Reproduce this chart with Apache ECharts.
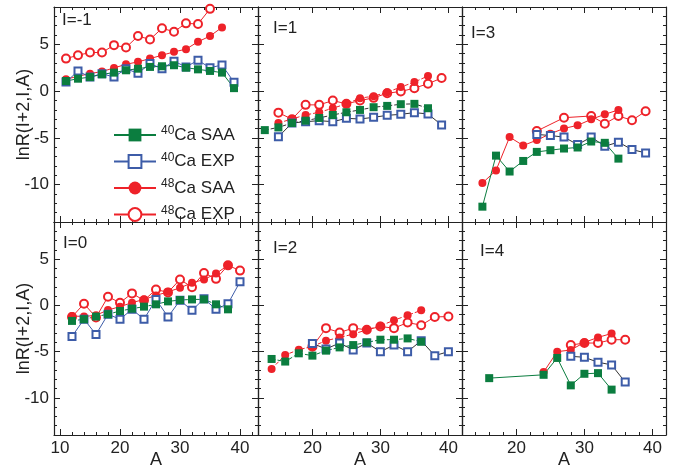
<!DOCTYPE html>
<html>
<head>
<meta charset="utf-8">
<script src="https://cdn.jsdelivr.net/npm/echarts@6/dist/echarts.min.js"></script>
<style>
  html, body { margin: 0; background: #fff; }
  #chart { width: 685px; height: 470px; }
</style>
</head>
<body>
<div id="chart"></div>
<script>
// ---- data: [A, lnR] ----
// I = -1
var saa40_m1 = [[11,1.08],[13,1.33],[15,1.5],[17,1.8],[19,1.98],[21,2.23],[23,2.4],[25,2.59],[27,2.66],[29,2.77],[31,2.51],[33,2.33],[35,2.16],[37,1.98],[39,0.32]];
var exp40_m1 = [[11,0.97],[13,2.15],[15,1.5],[17,1.87],[19,1.5],[21,2.4],[23,1.9],[25,2.95],[27,2.4],[29,3.2],[31,2.59],[33,3.3],[35,2.5],[37,2.8],[39,0.95]];
var saa48_m1 = [[11,1.26],[13,1.6],[15,1.87],[17,2.1],[19,2.48],[21,2.87],[23,3.13],[25,3.48],[27,3.84],[29,4.2],[31,4.49],[33,5.28],[35,5.89],[37,6.82]];
var exp48_m1 = [[11,3.48],[13,3.84],[15,4.13],[17,4.13],[19,4.92],[21,4.67],[23,5.89],[25,5.53],[27,6.72],[29,6.36],[31,7.25],[33,7.18],[35,8.8],[37,10.2]];
// I = 1
var saa40_1 = [[13,-4.17],[15,-3.88],[17,-3.41],[19,-3.16],[21,-2.87],[23,-2.55],[25,-2.26],[27,-2.01],[29,-1.72],[31,-1.58],[33,-1.4],[35,-1.36],[37,-1.83]];
var exp40_1 = [[15,-4.89],[17,-3.41],[19,-3.27],[21,-3.16],[23,-3.27],[25,-2.91],[27,-2.98],[29,-2.8],[31,-2.59],[33,-2.48],[35,-2.3],[37,-2.44],[39,-3.63]];
var saa48_1 = [[15,-3.41],[17,-2.98],[19,-2.55],[21,-2.26],[23,-1.83],[25,-1.36],[27,-0.75],[29,-0.54],[31,-0.11],[33,0.43],[35,0.97],[37,1.62]];
var exp48_1 = [[15,-2.3],[17,-3.0],[19,-1.47],[21,-1.47],[23,-1.01],[25,-1.36],[27,-1.01],[29,-0.72],[31,-0.22],[33,-0.04],[35,0.32],[37,0.79],[39,1.4]];
// I = 3
var saa40_3 = [[15,-12.36],[17,-6.9],[19,-8.6],[21,-7.47],[23,-6.5],[25,-6.32],[27,-6.14],[29,-6.03],[31,-5.39],[33,-5.53],[35,-7.22]];
var exp40_3 = [[23,-4.63],[25,-4.75],[27,-4.92],[29,-5.72],[31,-4.92],[33,-5.89],[35,-5.46],[37,-6.25],[39,-6.61]];
var saa48_3 = [[15,-9.84],[17,-8.48],[19,-4.92],[21,-5.82],[23,-5.24],[25,-4.56],[27,-3.99],[29,-3.66],[31,-3.02],[33,-2.48],[35,-2.01]];
var exp48_3 = [[23,-4.27],[27,-2.84],[31,-2.66],[33,-3.48],[35,-2.66],[37,-3.12],[39,-2.16]];
// I = 0
var saa40_0 = [[12,-1.68],[14,-1.5],[16,-1.21],[18,-0.96],[20,-0.61],[22,-0.36],[24,-0.14],[26,0.11],[28,0.43],[30,0.57],[32,0.64],[34,0.64],[36,0.11],[38,-0.43]];
var exp40_0 = [[12,-3.36],[14,-1.5],[16,-3.14],[18,-0.96],[20,-1.5],[22,-0.43],[24,-1.5],[26,0.64],[28,-1.25],[30,0.54],[32,-0.54],[34,0.71],[36,-0.43],[38,0.18],[40,2.54]];
var saa48_0 = [[12,-1.14],[14,-1.21],[16,-1.07],[18,-0.5],[20,-0.14],[22,0.29],[24,0.64],[26,1.07],[28,1.46],[30,1.89],[32,2.43],[34,2.79],[36,3.43],[38,4.32]];
var exp48_0 = [[12,-1.25],[14,0.18],[16,-1.3],[18,0.93],[20,0.29],[22,1.29],[24,0.54],[26,1.71],[28,1.4],[30,2.79],[32,1.96],[34,3.5],[36,2.86],[38,4.32],[40,3.75]];
// I = 2
var saa40_2 = [[14,-5.79],[16,-6.07],[18,-5.18],[20,-5.43],[22,-4.89],[24,-4.54],[26,-4.29],[28,-4.0],[30,-3.71],[32,-3.71],[34,-3.57],[36,-3.93]];
var exp40_2 = [[20,-4.11],[22,-4.71],[24,-4.07],[26,-4.82],[28,-4.07],[30,-5.0],[32,-4.29],[34,-5.0],[36,-3.82],[38,-5.43],[40,-5.0]];
var saa48_2 = [[14,-6.86],[16,-5.36],[18,-4.79],[20,-4.43],[22,-3.82],[24,-3.46],[26,-3.11],[28,-2.64],[30,-2.21],[32,-1.61],[34,-1.07],[36,-0.54]];
var exp48_2 = [[20,-4.46],[22,-2.46],[24,-2.93],[26,-2.46],[28,-2.64],[30,-2.29],[32,-2.46],[34,-1.86],[36,-2.14],[38,-1.25],[40,-1.21]];
// I = 4
var saa40_4 = [[16,-7.86],[24,-7.5],[26,-5.68],[28,-8.64],[30,-7.39],[32,-7.32],[34,-9.1]];
var exp40_4 = [[28,-5.5],[30,-5.61],[32,-6.14],[34,-6.43],[36,-8.29]];
var saa48_4 = [[24,-7.21],[26,-5.0],[28,-4.82],[30,-4.0],[32,-3.46],[34,-3.04]];
var exp48_4 = [[28,-4.29],[30,-4.07],[32,-4.07],[34,-3.71],[36,-3.71]];

var seriesNames = ["40Ca SAA", "40Ca EXP", "48Ca SAA", "48Ca EXP"];
var panelLabels = ["I=-1", "I=1", "I=3", "I=0", "I=2", "I=4"];
var yMajor = [-10, -5, 0, 5];
var xMajor = [10, 20, 30, 40];

var panels = [
  [saa40_m1, exp40_m1, saa48_m1, exp48_m1],
  [saa40_1, exp40_1, saa48_1, exp48_1],
  [saa40_3, exp40_3, saa48_3, exp48_3],
  [saa40_0, exp40_0, saa48_0, exp48_0],
  [saa40_2, exp40_2, saa48_2, exp48_2],
  [saa40_4, exp40_4, saa48_4, exp48_4]
];

// ---- layout / style ----
var FONT = "Liberation Sans, Arial, sans-serif";
var GREEN = "#0b7d3f", BLUE = "#3d5ca8", RED = "#ee2229", DARK = "#333";
var colLeft = [54, 258, 462], colW = 204;
var rowTop = [7, 222], rowH = 215;
var xRange = [[9, 43], [12, 42], [12, 42]];
var yRange = [-14, 9];
// line look of each panel: [40 SAA colour, 40 SAA dash, 40 EXP colour, 48 SAA dash]
var panelLines = [
  [GREEN, "solid", BLUE, "solid"],
  [DARK, "dashed", DARK, "dashed"],
  [GREEN, "solid", DARK, "solid"],
  [GREEN, "dashed", BLUE, "solid"],
  [GREEN, "dashed", DARK, "dashed"],
  [GREEN, "solid", DARK, "solid"]
];
var labelPos = [[62, 20], [273, 28], [471, 33], [63, 243], [273, 248], [480, 251]];

function steps(a, b, s) {
  var out = [];
  for (var v = a; v <= b + 1e-9; v += s) out.push(v);
  return out;
}

var grids = [], xAxes = [], yAxes = [], series = [], graphics = [];

// an axis that only draws frame line + ticks (labels hidden, so customValues ticks work)
function tickAxis(g, pos, range, ticks, len, withLine) {
  return {
    type: "value", gridIndex: g, position: pos, min: range[0], max: range[1],
    axisLine: { show: withLine, onZero: false, lineStyle: { color: "#222", width: 1.2 } },
    splitLine: { show: false },
    axisTick: { show: true, inside: true, length: len, customValues: ticks, lineStyle: { color: "#222", width: 1 } },
    axisLabel: { show: false }
  };
}
// an axis that only draws labels and the axis name
function labelAxis(g, pos, range, ticks, name, gap) {
  return {
    type: "value", gridIndex: g, position: pos, min: range[0], max: range[1],
    axisLine: { show: false, onZero: false }, axisTick: { show: false }, splitLine: { show: false },
    axisLabel: { show: true, customValues: ticks, margin: 5, fontSize: 17, color: "#222", fontFamily: FONT },
    name: name, nameLocation: "middle", nameGap: gap, nameMoveOverlap: false,
    nameTextStyle: { fontSize: 18, color: "#222", fontFamily: FONT }
  };
}

for (var g = 0; g < 6; g++) {
  var row = Math.floor(g / 3), col = g % 3;
  grids.push({ left: colLeft[col], top: rowTop[row], width: colW, height: rowH });
  var xr = xRange[col];
  var xMaj = xMajor.filter(function (v) { return v >= xr[0] && v <= xr[1]; });
  var xMinor = steps(Math.ceil(xr[0] / 2) * 2, xr[1], 2);
  var yMinor = steps(yRange[0], yRange[1], 1);

  var xIdx = xAxes.length, yIdx = yAxes.length;
  xAxes.push(tickAxis(g, "bottom", xr, xMaj, 6, true));
  xAxes.push(tickAxis(g, "bottom", xr, xMinor, 3, false));
  xAxes.push(tickAxis(g, "top", xr, xMaj, 6, true));
  xAxes.push(tickAxis(g, "top", xr, xMinor, 3, false));
  if (row === 1) xAxes.push(labelAxis(g, "bottom", xr, xMaj, "A", 16));

  yAxes.push(tickAxis(g, "left", yRange, yMajor, 6, true));
  yAxes.push(tickAxis(g, "left", yRange, yMinor, 3, false));
  yAxes.push(tickAxis(g, "right", yRange, yMajor, 6, true));
  yAxes.push(tickAxis(g, "right", yRange, yMinor, 3, false));
  if (col === 0) yAxes.push(labelAxis(g, "left", yRange, yMajor, "lnR(I+2,I,A)", 21));

  var ls = panelLines[g];
  var d = panels[g];
  // drawing order: 48 EXP, 48 SAA, 40 EXP, 40 SAA (green on top)
  series.push({
    name: seriesNames[3], type: "line", xAxisIndex: xIdx, yAxisIndex: yIdx, data: d[3],
    symbol: "emptyCircle", symbolSize: 8, itemStyle: { color: RED, borderWidth: 1.2 },
    lineStyle: { color: RED, width: 1, type: "solid" }
  });
  series.push({
    name: seriesNames[2], type: "line", xAxisIndex: xIdx, yAxisIndex: yIdx, data: d[2],
    symbol: "circle", symbolSize: 8, itemStyle: { color: RED },
    lineStyle: { color: RED, width: 1, type: ls[3] }
  });
  series.push({
    name: seriesNames[1], type: "line", xAxisIndex: xIdx, yAxisIndex: yIdx, data: d[1],
    symbol: "emptyRect", symbolSize: 7, itemStyle: { color: BLUE, borderWidth: 1.2 },
    lineStyle: { color: ls[2], width: 1, type: "solid" }
  });
  series.push({
    name: seriesNames[0], type: "line", xAxisIndex: xIdx, yAxisIndex: yIdx, data: d[0],
    symbol: "rect", symbolSize: 8, itemStyle: { color: GREEN },
    lineStyle: { color: ls[0], width: 1, type: ls[1] }
  });

  graphics.push({
    type: "text", x: labelPos[g][0], y: labelPos[g][1],
    style: { text: panelLabels[g], fill: "#222", font: "17px " + FONT, verticalAlign: "middle" }
  });
}

var chart = echarts.init(document.getElementById("chart"));
chart.setOption({
  backgroundColor: "#fff",
  animation: false,
  grid: grids,
  xAxis: xAxes,
  yAxis: yAxes,
  series: series,
  graphic: graphics,
  legend: {
    data: seriesNames,
    orient: "vertical",
    left: 108, top: 120,
    itemWidth: 42, itemHeight: 16, itemGap: 8,
    formatter: function (name) {
      var p = name.split("Ca");
      return "{sup|" + p[0] + "}{t|Ca" + p[1] + "}";
    },
    textStyle: {
      color: "#222", fontFamily: FONT,
      rich: {
        sup: { fontSize: 12, verticalAlign: "top", lineHeight: 20, fontFamily: FONT, color: "#222" },
        t: { fontSize: 17, lineHeight: 20, fontFamily: FONT, color: "#222" }
      }
    }
  }
});
</script>
</body>
</html>
